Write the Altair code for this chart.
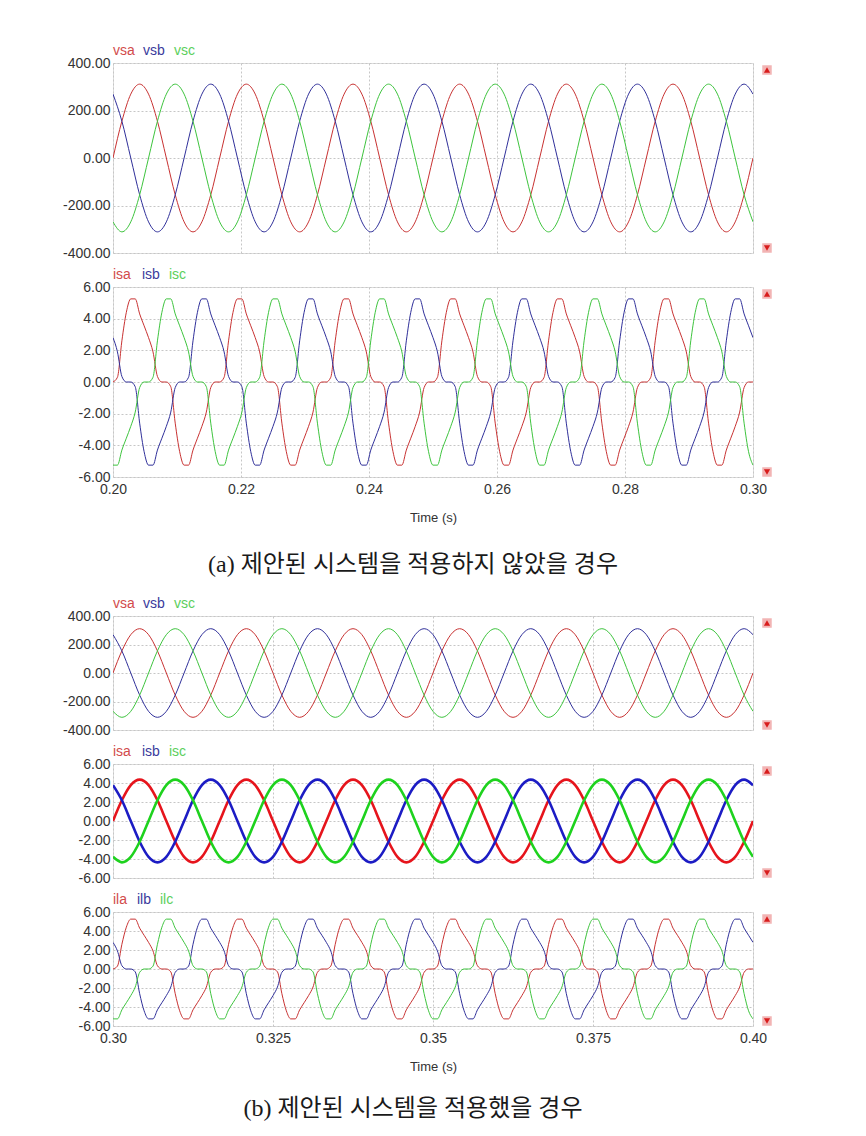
import altair as alt
import pandas as pd

# ---------------- sampling (60 Hz) ----------------
T_A0 = 0.2          # start time of figure (a)
T_B0 = 0.3          # start time of figure (b)
DT_30 = 1.0 / 720.0   # 30 degree steps
DT_15 = 1.0 / 1440.0  # 15 degree steps

# ---------------- source voltages (V), 30 deg samples ----------------
vsa = [
    0, 155, 269, 311, 269, 155, 0, -155, -269, -311, -269, -155,
    0, 155, 269, 311, 269, 155, 0, -155, -269, -311, -269, -155,
    0, 155, 269, 311, 269, 155, 0, -155, -269, -311, -269, -155,
    0, 155, 269, 311, 269, 155, 0, -155, -269, -311, -269, -155,
    0, 155, 269, 311, 269, 155, 0, -155, -269, -311, -269, -155,
    0, 155, 269, 311, 269, 155, 0, -155, -269, -311, -269, -155,
    0,
]
vsb = [
    269, 155, 0, -155, -269, -311, -269, -155, 0, 155, 269, 311,
    269, 155, 0, -155, -269, -311, -269, -155, 0, 155, 269, 311,
    269, 155, 0, -155, -269, -311, -269, -155, 0, 155, 269, 311,
    269, 155, 0, -155, -269, -311, -269, -155, 0, 155, 269, 311,
    269, 155, 0, -155, -269, -311, -269, -155, 0, 155, 269, 311,
    269, 155, 0, -155, -269, -311, -269, -155, 0, 155, 269, 311,
    269,
]
vsc = [
    -269, -311, -269, -155, 0, 155, 269, 311, 269, 155, 0, -155,
    -269, -311, -269, -155, 0, 155, 269, 311, 269, 155, 0, -155,
    -269, -311, -269, -155, 0, 155, 269, 311, 269, 155, 0, -155,
    -269, -311, -269, -155, 0, 155, 269, 311, 269, 155, 0, -155,
    -269, -311, -269, -155, 0, 155, 269, 311, 269, 155, 0, -155,
    -269, -311, -269, -155, 0, 155, 269, 311, 269, 155, 0, -155,
    -269,
]

# ---------------- load currents (A), 15 deg samples ----------------
ila = [
    0, 0.3, 2.6, 4.4, 5.25, 5.25, 4.3, 3.55, 2.8, 1.9, 0.35, 0, 0, -0.3, -2.6, -4.4, -5.25, -5.25, -4.3, -3.55, -2.8, -1.9, -0.35, 0,
    0, 0.3, 2.6, 4.4, 5.25, 5.25, 4.3, 3.55, 2.8, 1.9, 0.35, 0, 0, -0.3, -2.6, -4.4, -5.25, -5.25, -4.3, -3.55, -2.8, -1.9, -0.35, 0,
    0, 0.3, 2.6, 4.4, 5.25, 5.25, 4.3, 3.55, 2.8, 1.9, 0.35, 0, 0, -0.3, -2.6, -4.4, -5.25, -5.25, -4.3, -3.55, -2.8, -1.9, -0.35, 0,
    0, 0.3, 2.6, 4.4, 5.25, 5.25, 4.3, 3.55, 2.8, 1.9, 0.35, 0, 0, -0.3, -2.6, -4.4, -5.25, -5.25, -4.3, -3.55, -2.8, -1.9, -0.35, 0,
    0, 0.3, 2.6, 4.4, 5.25, 5.25, 4.3, 3.55, 2.8, 1.9, 0.35, 0, 0, -0.3, -2.6, -4.4, -5.25, -5.25, -4.3, -3.55, -2.8, -1.9, -0.35, 0,
    0, 0.3, 2.6, 4.4, 5.25, 5.25, 4.3, 3.55, 2.8, 1.9, 0.35, 0, 0, -0.3, -2.6, -4.4, -5.25, -5.25, -4.3, -3.55, -2.8, -1.9, -0.35, 0,
    0,
]
ilb = [
    2.8, 1.9, 0.35, 0, 0, -0.3, -2.6, -4.4, -5.25, -5.25, -4.3, -3.55, -2.8, -1.9, -0.35, 0, 0, 0.3, 2.6, 4.4, 5.25, 5.25, 4.3, 3.55,
    2.8, 1.9, 0.35, 0, 0, -0.3, -2.6, -4.4, -5.25, -5.25, -4.3, -3.55, -2.8, -1.9, -0.35, 0, 0, 0.3, 2.6, 4.4, 5.25, 5.25, 4.3, 3.55,
    2.8, 1.9, 0.35, 0, 0, -0.3, -2.6, -4.4, -5.25, -5.25, -4.3, -3.55, -2.8, -1.9, -0.35, 0, 0, 0.3, 2.6, 4.4, 5.25, 5.25, 4.3, 3.55,
    2.8, 1.9, 0.35, 0, 0, -0.3, -2.6, -4.4, -5.25, -5.25, -4.3, -3.55, -2.8, -1.9, -0.35, 0, 0, 0.3, 2.6, 4.4, 5.25, 5.25, 4.3, 3.55,
    2.8, 1.9, 0.35, 0, 0, -0.3, -2.6, -4.4, -5.25, -5.25, -4.3, -3.55, -2.8, -1.9, -0.35, 0, 0, 0.3, 2.6, 4.4, 5.25, 5.25, 4.3, 3.55,
    2.8, 1.9, 0.35, 0, 0, -0.3, -2.6, -4.4, -5.25, -5.25, -4.3, -3.55, -2.8, -1.9, -0.35, 0, 0, 0.3, 2.6, 4.4, 5.25, 5.25, 4.3, 3.55,
    2.8,
]
ilc = [
    -5.25, -5.25, -4.3, -3.55, -2.8, -1.9, -0.35, 0, 0, 0.3, 2.6, 4.4, 5.25, 5.25, 4.3, 3.55, 2.8, 1.9, 0.35, 0, 0, -0.3, -2.6, -4.4,
    -5.25, -5.25, -4.3, -3.55, -2.8, -1.9, -0.35, 0, 0, 0.3, 2.6, 4.4, 5.25, 5.25, 4.3, 3.55, 2.8, 1.9, 0.35, 0, 0, -0.3, -2.6, -4.4,
    -5.25, -5.25, -4.3, -3.55, -2.8, -1.9, -0.35, 0, 0, 0.3, 2.6, 4.4, 5.25, 5.25, 4.3, 3.55, 2.8, 1.9, 0.35, 0, 0, -0.3, -2.6, -4.4,
    -5.25, -5.25, -4.3, -3.55, -2.8, -1.9, -0.35, 0, 0, 0.3, 2.6, 4.4, 5.25, 5.25, 4.3, 3.55, 2.8, 1.9, 0.35, 0, 0, -0.3, -2.6, -4.4,
    -5.25, -5.25, -4.3, -3.55, -2.8, -1.9, -0.35, 0, 0, 0.3, 2.6, 4.4, 5.25, 5.25, 4.3, 3.55, 2.8, 1.9, 0.35, 0, 0, -0.3, -2.6, -4.4,
    -5.25, -5.25, -4.3, -3.55, -2.8, -1.9, -0.35, 0, 0, 0.3, 2.6, 4.4, 5.25, 5.25, 4.3, 3.55, 2.8, 1.9, 0.35, 0, 0, -0.3, -2.6, -4.4,
    -5.25,
]

# ---------------- compensated source currents (A), 30 deg samples ----------------
isa_c = [
    0, 2.18, 3.77, 4.35, 3.77, 2.18, 0, -2.18, -3.77, -4.35, -3.77, -2.18,
    0, 2.18, 3.77, 4.35, 3.77, 2.18, 0, -2.18, -3.77, -4.35, -3.77, -2.18,
    0, 2.18, 3.77, 4.35, 3.77, 2.18, 0, -2.18, -3.77, -4.35, -3.77, -2.18,
    0, 2.18, 3.77, 4.35, 3.77, 2.18, 0, -2.18, -3.77, -4.35, -3.77, -2.18,
    0, 2.18, 3.77, 4.35, 3.77, 2.18, 0, -2.18, -3.77, -4.35, -3.77, -2.18,
    0, 2.18, 3.77, 4.35, 3.77, 2.18, 0, -2.18, -3.77, -4.35, -3.77, -2.18,
    0,
]
isb_c = [
    3.77, 2.18, 0, -2.18, -3.77, -4.35, -3.77, -2.18, 0, 2.18, 3.77, 4.35,
    3.77, 2.18, 0, -2.18, -3.77, -4.35, -3.77, -2.18, 0, 2.18, 3.77, 4.35,
    3.77, 2.18, 0, -2.18, -3.77, -4.35, -3.77, -2.18, 0, 2.18, 3.77, 4.35,
    3.77, 2.18, 0, -2.18, -3.77, -4.35, -3.77, -2.18, 0, 2.18, 3.77, 4.35,
    3.77, 2.18, 0, -2.18, -3.77, -4.35, -3.77, -2.18, 0, 2.18, 3.77, 4.35,
    3.77, 2.18, 0, -2.18, -3.77, -4.35, -3.77, -2.18, 0, 2.18, 3.77, 4.35,
    3.77,
]
isc_c = [
    -3.77, -4.35, -3.77, -2.18, 0, 2.18, 3.77, 4.35, 3.77, 2.18, 0, -2.18,
    -3.77, -4.35, -3.77, -2.18, 0, 2.18, 3.77, 4.35, 3.77, 2.18, 0, -2.18,
    -3.77, -4.35, -3.77, -2.18, 0, 2.18, 3.77, 4.35, 3.77, 2.18, 0, -2.18,
    -3.77, -4.35, -3.77, -2.18, 0, 2.18, 3.77, 4.35, 3.77, 2.18, 0, -2.18,
    -3.77, -4.35, -3.77, -2.18, 0, 2.18, 3.77, 4.35, 3.77, 2.18, 0, -2.18,
    -3.77, -4.35, -3.77, -2.18, 0, 2.18, 3.77, 4.35, 3.77, 2.18, 0, -2.18,
    -3.77,
]

# ---------------- axis ticks / labels ----------------
x_ticks_a = [0.20, 0.22, 0.24, 0.26, 0.28, 0.30]
x_ticks_b = [0.30, 0.325, 0.35, 0.375, 0.40]
v_ticks = [-400, -200, 0, 200, 400]
i_ticks = [-6, -4, -2, 0, 2, 4, 6]
caption_a = "(a) 제안된 시스템을 적용하지 않았을 경우"
caption_b = "(b) 제안된 시스템을 적용했을 경우"

# ---------------- styling ----------------
W = 640
FONT = "Liberation Sans"
CAP_FONT = "Liberation Serif, Noto Sans CJK KR"
GRID = "#c6c6c6"
TXT = "#333333"
RED, BLUE, GREEN = "#c83232", "#30309a", "#3ec43e"
HRED, HBLUE, HGREEN = "#d24b4b", "#3a3a9c", "#5ccf5c"
TRED, TBLUE, TGREEN = "#e6141c", "#1c1cc4", "#1ed21e"

ONE = pd.DataFrame({"k": [0]})
YLABEL = "replace(format(datum.value, '.2f'), '\u2212', '-')"
XLABEL_A = "format(datum.value, '.2f')"
XLABEL_B = "datum.value == 0.3 ? '0.30' : (datum.value == 0.4 ? '0.40' : format(datum.value, '.3~f'))"


def series_df(vals, t0, dt):
    return pd.DataFrame({"t": [round(t0 + i * dt, 7) for i in range(len(vals))], "v": vals})


def label(text, color, x):
    return alt.Chart(ONE).mark_text(
        text=text, color=color, align="left", baseline="middle", font=FONT, fontSize=14
    ).encode(x=alt.value(x), y=alt.value(-12))


def markers(h):
    out = []
    for shape, y in (("triangle-up", 7), ("triangle-down", h - 5)):
        out.append(alt.Chart(ONE).mark_square(
            color="#f2b4b4", size=90, opacity=1
        ).encode(x=alt.value(W + 14), y=alt.value(y)))
        out.append(alt.Chart(ONE).mark_point(
            shape=shape, filled=True, color="#d81c1c", size=38, opacity=1
        ).encode(x=alt.value(W + 14), y=alt.value(y)))
    return out


def panel(series, t0, dt, xdom, xvals, xlab, ydom, yvals, h, headers, bottom, width=1.0, extra=()):
    common = dict(values=xvals, grid=True, gridColor=GRID, gridDash=[2, 2], ticks=False,
                  domain=False, labelOverlap=False)
    if bottom:
        xaxis = alt.Axis(labels=True, labelExpr=xlab, labelFlush=False, labelPadding=5,
                         labelFont=FONT, labelFontSize=14, labelColor=TXT,
                         title="Time (s)", titleFont=FONT, titleFontSize=13,
                         titleFontWeight="normal", titleColor=TXT, titlePadding=15, **common)
    else:
        xaxis = alt.Axis(labels=False, title=None, **common)
    X = alt.X("t:Q", scale=alt.Scale(domain=xdom, nice=False, zero=False), axis=xaxis)
    Y = alt.Y("v:Q", scale=alt.Scale(domain=ydom, nice=False, zero=False),
              axis=alt.Axis(values=yvals, labelExpr=YLABEL, grid=True, gridColor=GRID,
                            gridDash=[2, 2], ticks=False, domain=False, labelOverlap=False,
                            labelFont=FONT, labelFontSize=14, labelColor=TXT,
                            labelPadding=3, title=None))
    layers = []
    for vals, color in series:
        layers.append(
            alt.Chart(series_df(vals, t0, dt)).mark_line(
                color=color, strokeWidth=width, interpolate="monotone", clip=True
            ).encode(x=X, y=Y)
        )
    for text, color, x in headers:
        layers.append(label(text, color, x))
    layers += markers(h)
    layers += list(extra)
    return alt.layer(*layers).properties(width=W, height=h)


def caption(text, y):
    return alt.Chart(ONE).mark_text(
        text=text, font=CAP_FONT, fontSize=24, color="#1a1a1a", align="center", baseline="middle"
    ).encode(x=alt.value(W / 2 - 20), y=alt.value(y))


A1 = panel([(vsa, RED), (vsb, BLUE), (vsc, GREEN)], T_A0, DT_30, [0.2, 0.3], x_ticks_a, XLABEL_A,
           [-400, 400], v_ticks, 190,
           [("vsa", HRED, 0), ("vsb", HBLUE, 30), ("vsc", HGREEN, 61)], False)
A2 = panel([(ila, RED), (ilb, BLUE), (ilc, GREEN)], T_A0, DT_15, [0.2, 0.3], x_ticks_a, XLABEL_A,
           [-6, 6], i_ticks, 190,
           [("isa", HRED, 0), ("isb", HBLUE, 29), ("isc", HGREEN, 56)], True,
           extra=[caption(caption_a, 278)])

# empty band between figure (a) and figure (b)
SPACER = alt.Chart(ONE).mark_point(opacity=0).encode(
    x=alt.value(0), y=alt.value(0)
).properties(width=W, height=71, view=alt.ViewBackground(strokeOpacity=0))

B1 = panel([(vsa, RED), (vsb, BLUE), (vsc, GREEN)], T_B0, DT_30, [0.3, 0.4], x_ticks_b, XLABEL_B,
           [-400, 400], v_ticks, 114,
           [("vsa", HRED, 0), ("vsb", HBLUE, 30), ("vsc", HGREEN, 61)], False)
B2 = panel([(isa_c, TRED), (isb_c, TBLUE), (isc_c, TGREEN)], T_B0, DT_30, [0.3, 0.4], x_ticks_b, XLABEL_B,
           [-6, 6], i_ticks, 114,
           [("isa", HRED, 0), ("isb", HBLUE, 29), ("isc", HGREEN, 56)], False, width=2.6)
B3 = panel([(ila, RED), (ilb, BLUE), (ilc, GREEN)], T_B0, DT_15, [0.3, 0.4], x_ticks_b, XLABEL_B,
           [-6, 6], i_ticks, 114,
           [("ila", HRED, 0), ("ilb", HBLUE, 24), ("ilc", HGREEN, 47)], True,
           extra=[caption(caption_b, 197)])

chart = alt.vconcat(A1, A2, SPACER, B1, B2, B3, spacing=34, bounds="flush").properties(
    padding={"left": 62, "top": 43, "right": 10, "bottom": 10}
).configure_view(stroke="#b5b5b5", strokeWidth=1).configure(background="white")

chart.save("out.html", embed_options={"renderer": "svg", "actions": False})
